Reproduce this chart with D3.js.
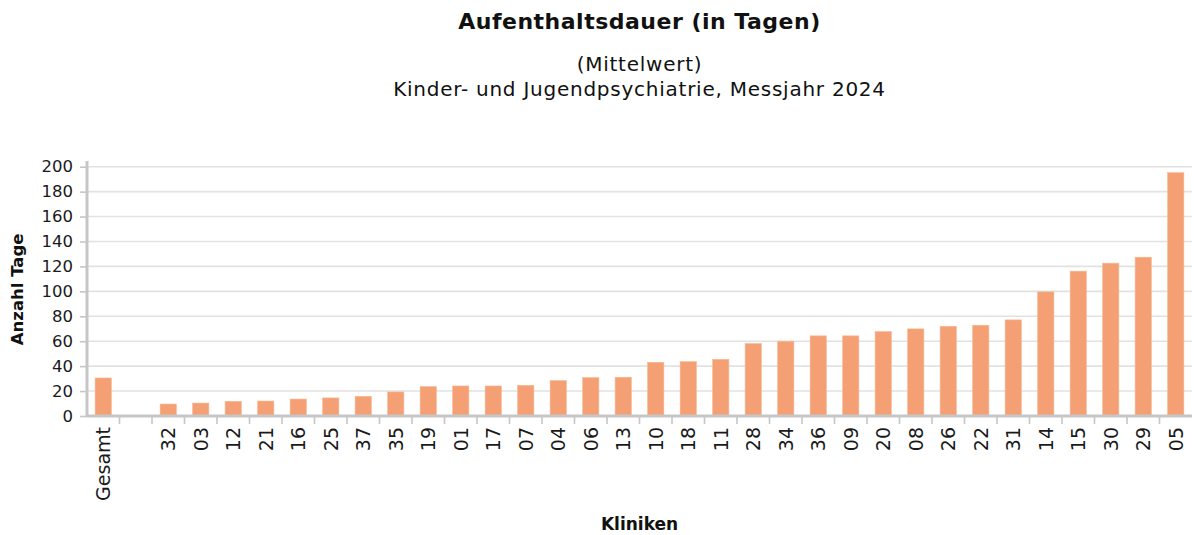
<!DOCTYPE html>
<html>
<head>
<meta charset="utf-8">
<script src="https://cdn.jsdelivr.net/npm/d3@7"></script>
<style>
  html, body { margin: 0; padding: 0; background: #fff; }
  svg { display: block; font-family: "DejaVu Sans", sans-serif; }
</style>
</head>
<body>
<svg id="chart" width="1196" height="535"></svg>
<script>
// Mean length of stay per clinic (days), sorted ascending; "Gesamt" is the overall mean
const categories = ["Gesamt", "", "32", "03", "12", "21", "16", "25", "37", "35", "19", "01", "17", "07",
  "04", "06", "13", "10", "18", "11", "28", "34", "36", "09", "20", "08", "26", "22", "31",
  "14", "15", "30", "29", "05"];
const values = [30.5, null, 9.6, 10.4, 11.8, 12.0, 13.6, 14.5, 15.8, 19.3, 23.6, 24.1, 24.1, 24.6,
  28.4, 30.8, 31.1, 43.1, 43.6, 45.5, 58.1, 60.0, 64.3, 64.3, 67.7, 69.9, 72.0, 72.8, 77.1,
  99.6, 116.2, 122.6, 127.4, 195.2];
const yTicks = [0, 20, 40, 60, 80, 100, 120, 140, 160, 180, 200];

const title = "Aufenthaltsdauer (in Tagen)";
const subtitle = ["(Mittelwert)", "Kinder- und Jugendpsychiatrie, Messjahr 2024"];
const xTitle = "Kliniken";
const yTitle = "Anzahl Tage";

const data = categories.map((c, i) => ({ key: i, label: c, value: values[i] }));

const svg = d3.select("#chart");
const plotLeft = 87, plotRight = 1192, plotTop = 166.7, plotBottom = 416;
const axisColor = "#c6c6c6", gridColor = "#e2e2e2", barColor = "#f4a074";

const x = d3.scaleBand().domain(data.map(d => d.key)).range([plotLeft, plotRight]).padding(0);
const y = d3.scaleLinear().domain([0, 200]).range([plotBottom, plotTop]);

// Horizontal grid lines
svg.append("g")
  .selectAll("line")
  .data(yTicks.filter(t => t > 0))
  .join("line")
  .attr("x1", plotLeft).attr("x2", plotRight)
  .attr("y1", d => y(d)).attr("y2", d => y(d))
  .attr("stroke", gridColor).attr("stroke-width", 1.6);

// Bars: half the band width, centred in each band
svg.append("g")
  .selectAll("rect")
  .data(data.filter(d => d.value != null))
  .join("rect")
  .attr("x", d => x(d.key) + x.bandwidth() * 0.25)
  .attr("width", x.bandwidth() * 0.5)
  .attr("y", d => y(d.value))
  .attr("height", d => y(0) - y(d.value))
  .attr("fill", barColor)
  .attr("stroke", "#f8b891").attr("stroke-width", 0.6);

// Y axis
const yAxis = svg.append("g")
  .attr("transform", `translate(${plotLeft},0)`)
  .call(d3.axisLeft(y).tickValues(yTicks).tickSize(7).tickPadding(7));
yAxis.select(".domain").remove();
yAxis.selectAll(".tick line").attr("stroke", axisColor).attr("stroke-width", 1.6);
yAxis.selectAll(".tick text")
  .attr("font-family", "DejaVu Sans, sans-serif")
  .attr("font-size", 16.5).attr("fill", "#1a1a1a");
yAxis.append("line")
  .attr("x1", 0).attr("x2", 0).attr("y1", 161).attr("y2", plotBottom + 1)
  .attr("stroke", axisColor).attr("stroke-width", 3);

// X axis: ticks sit at band boundaries
const xAxis = svg.append("g")
  .attr("transform", `translate(0,${plotBottom})`);
xAxis.append("line")
  .attr("x1", plotLeft).attr("x2", plotRight).attr("y1", 0).attr("y2", 0)
  .attr("stroke", axisColor).attr("stroke-width", 3);
xAxis.selectAll("line.tk")
  .data(data.slice(1))
  .join("line").attr("class", "tk")
  .attr("x1", d => x(d.key)).attr("x2", d => x(d.key))
  .attr("y1", 0).attr("y2", 8)
  .attr("stroke", axisColor).attr("stroke-width", 1.6);
xAxis.selectAll("text")
  .data(data)
  .join("text")
  .attr("transform", d => `translate(${x(d.key) + x.bandwidth() / 2},11) rotate(-90)`)
  .attr("text-anchor", "end")
  .attr("dominant-baseline", "central")
  .attr("font-size", 19)
  .attr("fill", "#1a1a1a")
  .text(d => d.label);

// Titles
const cx = (plotLeft + plotRight) / 2;
svg.append("text")
  .attr("x", cx).attr("y", 29)
  .attr("text-anchor", "middle")
  .attr("font-size", 22).attr("letter-spacing", 0.5)
  .attr("font-weight", "bold").attr("fill", "#111")
  .text(title);
svg.selectAll("text.sub")
  .data(subtitle)
  .join("text").attr("class", "sub")
  .attr("x", cx).attr("y", (d, i) => 71 + i * 24.5)
  .attr("text-anchor", "middle")
  .attr("font-size", 20).attr("letter-spacing", 0.75).attr("fill", "#111")
  .text(d => d);

svg.append("text")
  .attr("x", cx).attr("y", 530)
  .attr("text-anchor", "middle")
  .attr("font-size", 17).attr("font-weight", "bold").attr("fill", "#111")
  .text(xTitle);
svg.append("text")
  .attr("transform", `translate(23,${(plotTop + plotBottom) / 2 - 2}) rotate(-90)`)
  .attr("text-anchor", "middle")
  .attr("font-size", 16.5).attr("font-weight", "bold").attr("fill", "#111")
  .text(yTitle);
</script>
</body>
</html>
